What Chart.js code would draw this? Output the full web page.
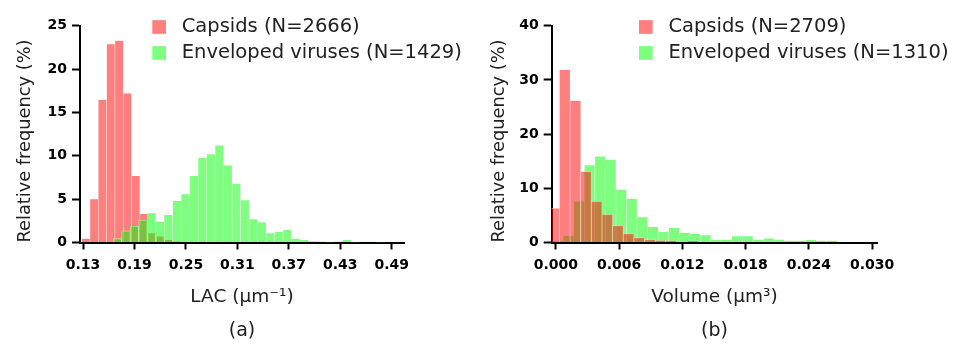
<!DOCTYPE html>
<html lang="en">
<head>
<meta charset="UTF-8">
<title>Capsids vs enveloped viruses</title>
<script src="https://cdn.jsdelivr.net/npm/chart.js"></script>
<style>
  body { margin: 0; background: #fff; }
  .wrap { position: relative; width: 955px; height: 347px; }
  #chartA { position: absolute; left: 0; top: 0; }
  #chartB { position: absolute; left: 477px; top: 0; }
</style>
</head>
<body>
<div class="wrap">
  <canvas id="chartA" width="477" height="347"></canvas>
  <canvas id="chartB" width="478" height="347"></canvas>
</div>
<script>
// (a) LAC, bin centres (um^-1) and relative frequency (%)
const lacCapsidBins = [0.1333, 0.1430, 0.1527, 0.1624, 0.1721, 0.1818, 0.1915, 0.2012, 0.2109, 0.2206, 0.2303, 0.2400];
const lacCapsidFreq = [0.45, 5.0, 16.5, 22.9, 23.3, 17.2, 7.7, 3.3, 1.1, 0.7, 0.3, 0.1];
const lacEnvBins = [0.1702, 0.1801, 0.1900, 0.1999, 0.2098, 0.2197, 0.2296, 0.2395, 0.2494, 0.2593, 0.2692,
  0.2791, 0.2890, 0.2989, 0.3088, 0.3187, 0.3286, 0.3385, 0.3484, 0.3583, 0.3682, 0.3781, 0.3880, 0.3979,
  0.4078, 0.4177, 0.4276, 0.4375, 0.4474, 0.4573, 0.4672, 0.4771];
const lacEnvFreq = [0.45, 1.35, 1.9, 2.6, 3.4, 2.4, 3.2, 4.8, 5.6, 7.7, 9.8,
  10.2, 11.2, 8.9, 6.8, 4.9, 2.7, 2.35, 1.08, 1.27, 1.46, 0.45, 0.3, 0.15,
  0.08, 0.05, 0.08, 0.3, 0.05, 0.08, 0.08, 0.05];
const lacTicks = [0.13, 0.19, 0.25, 0.31, 0.37, 0.43, 0.49];

// (b) volume, bin centres (um^3) and relative frequency (%)
const volCapsidBins = [-0.00017, 0.00084, 0.00185, 0.00286, 0.00387, 0.00488, 0.00589, 0.00690, 0.00791,
  0.00892, 0.00993, 0.01094, 0.01195, 0.01296];
const volCapsidFreq = [6.3, 31.9, 26.2, 13.1, 7.6, 5.2, 3.1, 1.65, 0.86, 0.5, 0.4, 0.35, 0, 0.3];
const volEnvBins = [0.0002, 0.0012, 0.0022, 0.0032, 0.0042, 0.0052, 0.0062, 0.0072, 0.0082, 0.0092,
  0.0102, 0.0112, 0.0122, 0.0132, 0.0142, 0.0152, 0.0162, 0.0172, 0.0182, 0.0192, 0.0202, 0.0212,
  0.0222, 0.0232, 0.0242, 0.0252, 0.0262];
const volEnvFreq = [0.3, 1.3, 7.6, 14.3, 15.9, 15.3, 9.75, 8.1, 4.7, 2.9,
  2.0, 2.7, 1.85, 1.66, 1.35, 0.55, 0.55, 1.2, 1.2, 0.55, 0.75, 0.55,
  0.35, 0.35, 0.5, 0.35, 0.35];
const volTicks = [0, 0.006, 0.012, 0.018, 0.024, 0.030];

const RED = 'rgba(255, 0, 0, 0.5)';
const GREEN = 'rgba(0, 255, 0, 0.5)';
const FONT = "'DejaVu Sans', Verdana, sans-serif";
Chart.defaults.font.family = FONT;

const pts = (xs, ys) => xs.map((x, i) => ({ x, y: ys[i] }));

// legend inside the plot: swatch + label, one row per dataset
const boxLegend = {
  id: 'boxLegend',
  afterDraw(chart, args, o) {
    const ctx = chart.ctx, area = chart.chartArea;
    ctx.save();
    ctx.font = o.size + 'px ' + FONT;
    ctx.textBaseline = 'middle';
    chart.data.datasets.forEach((ds, i) => {
      const x = area.left + o.x;
      const y = area.top + o.y + i * o.row;
      ctx.fillStyle = ds.backgroundColor;
      ctx.fillRect(x, y - o.box / 2, o.box, o.box);
      ctx.fillStyle = '#222';
      ctx.fillText(ds.label, x + o.gap, y);
    });
    ctx.restore();
  }
};

function histChart(id, c) {
  const setTicks = s => { s.ticks = c.ticks.map(v => ({ value: v })); };
  const bar = { barPercentage: 1, categoryPercentage: 1, grouped: false, clip: 0,
    borderWidth: 0.5, borderColor: 'rgba(255,255,255,0.6)', borderSkipped: 'start' };
  return new Chart(document.getElementById(id), {
    type: 'bar',
    data: {
      datasets: [
        { ...bar, label: c.labels[0], data: pts(c.redX, c.redY), backgroundColor: RED, xAxisID: 'x', order: c.redOrder },
        { ...bar, label: c.labels[1], data: pts(c.greenX, c.greenY), backgroundColor: GREEN, xAxisID: 'x2', order: c.greenOrder }
      ]
    },
    options: {
      responsive: false,
      animation: false,
      events: [],
      layout: { padding: { top: 25.8, right: c.padRight, bottom: 1.1, left: 0 } },
      scales: {
        x: {
          type: 'linear', min: c.xMin, max: c.xMax, offset: false,
          afterBuildTicks: setTicks,
          afterFit: s => { s.height = 65.6; },
          border: { color: '#000', width: 2 },
          grid: { offset: false, drawOnChartArea: false, tickLength: 7, tickWidth: 2, tickColor: '#000' },
          ticks: { autoSkip: false, maxRotation: 0, padding: 7, color: '#000',
            font: { size: 14, weight: 'bold' }, callback: v => v.toFixed(c.decimals) },
          title: { display: true, text: c.xTitle, color: '#222', font: { size: 18.5 }, padding: 0 }
        },
        x2: { type: 'linear', display: false, min: c.xMin, max: c.xMax, offset: false,
          grid: { offset: false }, afterBuildTicks: setTicks },
        y: {
          min: 0, max: c.yMax,
          afterFit: s => { s.width = c.yWidth; },
          border: { color: '#000', width: 2 },
          grid: { drawOnChartArea: false, tickLength: 8, tickWidth: 2, tickColor: '#000' },
          ticks: { stepSize: c.yStep, padding: 5, color: '#000', font: { size: 14, weight: 'bold' } },
          title: { display: true, text: 'Relative frequency (%)', color: '#222', font: { size: 17.8 },
            align: 'start', padding: { top: c.yTitlePad, bottom: 0 } }
        }
      },
      plugins: {
        legend: { display: false },
        tooltip: { enabled: false },
        title: { display: true, text: c.panel, position: 'bottom', fullSize: false, color: '#222',
          font: { size: 19, weight: 'normal' }, padding: { top: 12, bottom: 3 } },
        boxLegend: { x: c.legendX, y: 1.2, row: 26, box: 13.7, gap: 29.4, size: 19.5 }
      }
    },
    plugins: [boxLegend]
  });
}

histChart('chartA', {
  labels: ['Capsids (N=2666)', 'Enveloped viruses (N=1429)'],
  redX: lacCapsidBins, redY: lacCapsidFreq, greenX: lacEnvBins, greenY: lacEnvFreq,
  redOrder: 1, greenOrder: 0,
  xMin: 0.1265, xMax: 0.5043, ticks: lacTicks, decimals: 2,
  xTitle: 'LAC (μm⁻¹)', panel: '(a)',
  yMax: 25, yStep: 5, yWidth: 80, yTitlePad: 15, padRight: 73, legendX: 72.3
});

histChart('chartB', {
  labels: ['Capsids (N=2709)', 'Enveloped viruses (N=1310)'],
  redX: volCapsidBins, redY: volCapsidFreq, greenX: volEnvBins, greenY: volEnvFreq,
  redOrder: 0, greenOrder: 1,
  xMin: -0.0004, xMax: 0.0305, ticks: volTicks, decimals: 3,
  xTitle: 'Volume (μm³)', panel: '(b)',
  yMax: 40, yStep: 10, yWidth: 74.7, yTitlePad: 11.5, padRight: 77.7, legendX: 87.3
});
</script>
</body>
</html>
